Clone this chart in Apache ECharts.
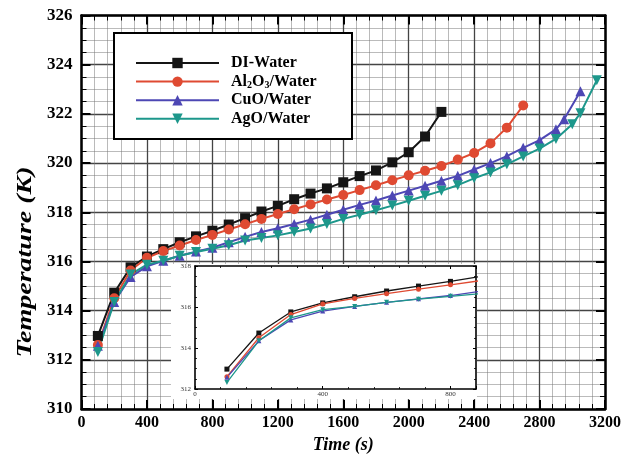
<!DOCTYPE html>
<html>
<head>
<meta charset="utf-8">
<script src="https://cdn.jsdelivr.net/npm/echarts@6/dist/echarts.min.js"></script>
<style>
  html, body { margin: 0; padding: 0; background: #fff; }
  #chart { width: 624px; height: 459px; }
</style>
</head>
<body>
<div id="chart"></div>
<script>
// values
const seriesNames = ['DI-Water', 'Al2O3/Water', 'CuO/Water', 'AgO/Water'];
const seriesColors = ['#151515', '#df4a32', '#4d47b4', '#1d978b'];

const diTime = [100, 200, 300, 400, 500, 600, 700, 800, 900, 1000, 1100, 1200, 1300, 1400, 1500, 1600, 1700, 1800, 1900, 2000, 2100, 2200];
const diTemp = [312.97, 314.73, 315.76, 316.2, 316.5, 316.78, 317.02, 317.25, 317.5, 317.76, 318.03, 318.26, 318.53, 318.76, 318.97, 319.22, 319.47, 319.7, 320.03, 320.44, 321.08, 322.08];

const alTime = [100, 200, 300, 400, 500, 600, 700, 800, 900, 1000, 1100, 1200, 1300, 1400, 1500, 1600, 1700, 1800, 1900, 2000, 2100, 2200, 2300, 2400, 2500, 2600, 2700];
const alTemp = [312.6, 314.5, 315.63, 316.15, 316.42, 316.65, 316.87, 317.08, 317.3, 317.51, 317.73, 317.93, 318.12, 318.32, 318.52, 318.7, 318.9, 319.1, 319.3, 319.5, 319.69, 319.88, 320.14, 320.41, 320.8, 321.44, 322.34];

const cuTime = [100, 200, 300, 400, 500, 600, 700, 800, 900, 1000, 1100, 1200, 1300, 1400, 1500, 1600, 1700, 1800, 1900, 2000, 2100, 2200, 2300, 2400, 2500, 2600, 2700, 2800, 2900, 2950, 3050];
const cuTemp = [312.57, 314.35, 315.37, 315.8, 316.03, 316.23, 316.4, 316.56, 316.78, 317.0, 317.2, 317.35, 317.52, 317.7, 317.9, 318.1, 318.3, 318.48, 318.68, 318.88, 319.08, 319.28, 319.48, 319.74, 320.0, 320.28, 320.62, 320.93, 321.37, 321.78, 322.92];

const agTime = [100, 200, 300, 400, 500, 600, 700, 800, 900, 1000, 1100, 1200, 1300, 1400, 1500, 1600, 1700, 1800, 1900, 2000, 2100, 2200, 2300, 2400, 2500, 2600, 2700, 2800, 2900, 3000, 3050, 3150];
const agTemp = [312.32, 314.35, 315.47, 315.87, 316.03, 316.23, 316.38, 316.52, 316.66, 316.85, 316.95, 317.06, 317.2, 317.34, 317.52, 317.73, 317.9, 318.08, 318.27, 318.47, 318.67, 318.87, 319.1, 319.38, 319.62, 319.95, 320.27, 320.59, 320.98, 321.58, 322.03, 323.37];

const times = [diTime, alTime, cuTime, agTime];
const temps = [diTemp, alTemp, cuTemp, agTemp];
const symbols = ['rect', 'circle', 'triangle', 'path://M0,0 L2,0 L1,1.73 Z'];
const insetPoints = 10;

const serif = '"Liberation Serif", "DejaVu Serif", serif';
const plain = v => String(v);

function pairs(i) {
  return times[i].map((t, k) => [t, temps[i][k]]);
}

function mainAxisX(pos) {
  return {
    type: 'value', gridIndex: 0, position: pos, min: 0, max: 3200, interval: 400,
    axisLine: { onZero: false, lineStyle: { color: '#000', width: 2.5 } },
    axisTick: { inside: true, length: 9, lineStyle: { color: '#000', width: 2 } },
    minorTick: { show: true, splitNumber: 5, length: 5, lineStyle: { color: '#000', width: 1 } },
    axisLabel: { show: pos === 'bottom', formatter: plain, margin: 6, color: '#000', fontFamily: serif, fontWeight: 'bold', fontSize: 16 },
    splitLine: { show: pos === 'bottom', lineStyle: { color: '#444', width: 1.3 } },
    minorSplitLine: { show: pos === 'bottom', lineStyle: { color: '#777', width: 1, type: 'dotted' } }
  };
}

function mainAxisY(pos) {
  return {
    type: 'value', gridIndex: 0, position: pos, min: 310, max: 326, interval: 2,
    axisLine: { onZero: false, lineStyle: { color: '#000', width: 2.5 } },
    axisTick: { inside: true, length: 9, lineStyle: { color: '#000', width: 2 } },
    minorTick: { show: true, splitNumber: 4, length: 5, lineStyle: { color: '#000', width: 1 } },
    axisLabel: { show: pos === 'left', formatter: plain, margin: 9, color: '#000', fontFamily: serif, fontWeight: 'bold', fontSize: 17 },
    splitLine: { show: pos === 'left', lineStyle: { color: '#444', width: 1.3 } },
    minorSplitLine: { show: pos === 'left', lineStyle: { color: '#777', width: 1, type: 'dotted' } }
  };
}

function insetAxisX(pos) {
  return {
    type: 'value', gridIndex: 1, position: pos, min: 0, max: 880, interval: 400, z: 3,
    axisLine: { onZero: false, lineStyle: { color: '#000', width: 1.6 } },
    axisTick: { inside: true, length: 3, lineStyle: { color: '#000', width: 1 } },
    minorTick: { show: true, splitNumber: 5, length: 2, lineStyle: { color: '#000', width: 0.8 } },
    axisLabel: { show: pos === 'bottom', formatter: plain, showMaxLabel: false, margin: 2, color: '#333', fontFamily: serif, fontSize: 7 },
    splitLine: { show: false }
  };
}

function insetAxisY(pos) {
  return {
    type: 'value', gridIndex: 1, position: pos, min: 312, max: 318, interval: 2, z: 3,
    axisLine: { onZero: false, lineStyle: { color: '#000', width: 1.6 } },
    axisTick: { inside: true, length: 3, lineStyle: { color: '#000', width: 1 } },
    minorTick: { show: true, splitNumber: 4, length: 2, lineStyle: { color: '#000', width: 0.8 } },
    axisLabel: { show: pos === 'left', formatter: plain, margin: 4, color: '#333', fontFamily: serif, fontSize: 7 },
    splitLine: { show: false }
  };
}

const series = [];
seriesNames.forEach((name, i) => {
  series.push({
    name: name, type: 'line', xAxisIndex: 0, yAxisIndex: 0,
    data: pairs(i), symbol: symbols[i], symbolSize: 10, z: 2,
    color: seriesColors[i],
    lineStyle: { width: 2, color: seriesColors[i] },
    itemStyle: { color: seriesColors[i] }
  });
});
seriesNames.forEach((name, i) => {
  series.push({
    name: name, type: 'line', xAxisIndex: 2, yAxisIndex: 2,
    data: pairs(i).slice(0, insetPoints), symbol: symbols[i], symbolSize: 5, z: 4,
    color: seriesColors[i],
    lineStyle: { width: 1.3, color: seriesColors[i] },
    itemStyle: { color: seriesColors[i] }
  });
});

const chart = echarts.init(document.getElementById('chart'));
chart.setOption({
  animation: false,
  backgroundColor: '#fff',
  grid: [
    { left: 81.5, right: 19, top: 15.5, bottom: 47.5 },
    { left: 195, top: 266, width: 281, height: 123 }
  ],
  xAxis: [
    Object.assign(mainAxisX('bottom'), {
      name: 'Time (s)', nameLocation: 'middle', nameGap: 27,
      nameTextStyle: { color: '#000', fontFamily: serif, fontWeight: 'bold', fontStyle: 'italic', fontSize: 18 }
    }),
    mainAxisX('top'),
    insetAxisX('bottom'),
    insetAxisX('top')
  ],
  yAxis: [mainAxisY('left'), mainAxisY('right'), insetAxisY('left'), insetAxisY('right')],
  legend: {
    data: seriesNames, orient: 'vertical', left: 135, top: 54, z: 6,
    padding: 0, itemWidth: 83, itemHeight: 13, itemGap: 0.6, selectedMode: false,
    textStyle: {
      color: '#000', fontFamily: serif, fontWeight: 'bold', fontSize: 16, lineHeight: 18,
      padding: [0, 0, 0, 7],
      rich: {
        a: { color: '#000', fontFamily: serif, fontWeight: 'bold', fontSize: 16, lineHeight: 18 },
        s: { color: '#000', fontFamily: serif, fontWeight: 'bold', fontSize: 10, lineHeight: 10, verticalAlign: 'bottom' }
      }
    },
    formatter: function (name) {
      if (name === 'Al2O3/Water') {
        return '{a|Al}{s|2}{a|O}{s|3}{a|/Water}';
      }
      return name;
    }
  },
  graphic: [
    { type: 'rect', z: 1, silent: true, shape: { x: 171, y: 264, width: 306, height: 135 }, style: { fill: '#fff' } },
    { type: 'rect', z: 5, silent: true, shape: { x: 114, y: 33, width: 238, height: 106 }, style: { fill: '#fff', stroke: '#000', lineWidth: 2 } },
    {
      type: 'text', z: 5, silent: true, x: 26, y: 262, rotation: Math.PI / 2, scaleX: 1.4,
      style: {
        text: 'Temperature (K)', fill: '#000', align: 'center', verticalAlign: 'middle',
        font: 'italic bold 20px "Liberation Serif", serif'
      }
    }
  ],
  series: series
});
</script>
</body>
</html>
